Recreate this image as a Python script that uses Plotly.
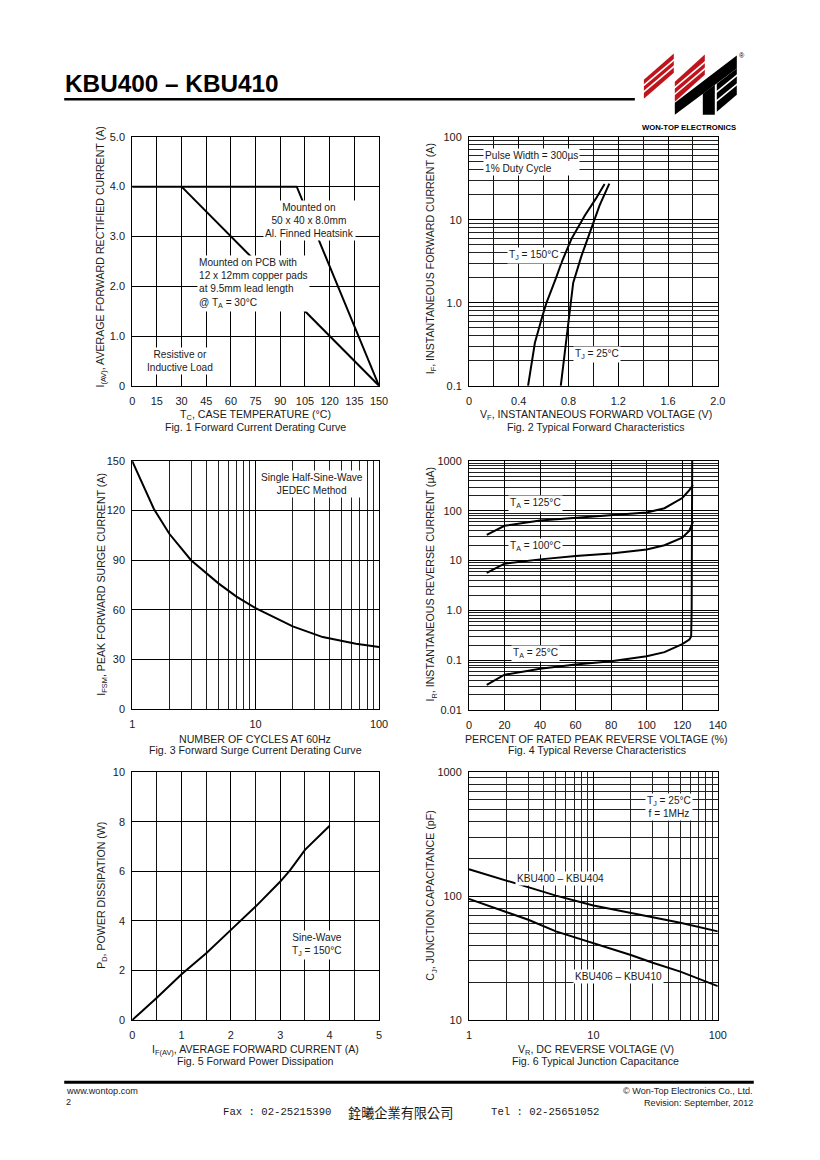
import plotly.graph_objects as go

W, H = 820, 1160
FONT = "Liberation Sans, Arial, sans-serif"
S = 0.986  # compensation for the slight shrink seen in the photographed page
DX, DY = 2.0, 1.5


def px(x):
    return (410 + (x + DX - 410) / S) / W


def py(y):
    return 1 - (580 + (y + DY - 580) / S) / H


def fs(size):
    return size / S


# ---------------- data ----------------
# Fig. 1 Forward Current Derating Curve
fig1_tc_heatsink = [0, 100, 150]
fig1_if_heatsink = [4.0, 4.0, 0.0]
fig1_tc_pcb = [30, 150]
fig1_if_pcb = [4.0, 0.0]
fig1_xticks = [0, 15, 30, 45, 60, 75, 90, 105, 120, 135, 150]
fig1_yticks = [0, 1, 2, 3, 4, 5]
fig1_ylabels = ["0", "1.0", "2.0", "3.0", "4.0", "5.0"]

# Fig. 2 Typical Forward Characteristics
fig2_vf_150 = [0.475, 0.53, 0.59, 0.623, 0.70, 0.744, 0.824, 0.93, 1.02, 1.09]
fig2_if_150 = [0.1, 0.33, 0.69, 1.0, 2.0, 3.06, 5.9, 11.2, 18.0, 27.0]
fig2_vf_25 = [0.738, 0.77, 0.80, 0.82, 0.838, 0.905, 0.985, 1.05, 1.128]
fig2_if_25 = [0.1, 0.25, 0.65, 1.05, 1.75, 3.7, 7.8, 14.9, 27.3]
fig2_xticks = [0, 0.4, 0.8, 1.2, 1.6, 2.0]
fig2_xlabels = ["0", "0.4", "0.8", "1.2", "1.6", "2.0"]
fig2_yticks = [0.1, 1, 10, 100]
fig2_ylabels = ["0.1", "1.0", "10", "100"]

# Fig. 3 Forward Surge Current Derating Curve
fig3_cycles = [1, 1.5, 2, 3, 5, 7, 10, 20, 35, 65, 100]
fig3_ifsm = [150, 121, 106, 90, 76, 68, 61, 50, 43.5, 39.5, 37.5]
fig3_xticks = [1, 10, 100]
fig3_yticks = [0, 30, 60, 90, 120, 150]

# Fig. 4 Typical Reverse Characteristics
fig4_pct_125 = [10, 20, 40, 60, 80, 100, 110, 120, 124, 126]
fig4_ir_125 = [33, 50, 64, 73, 83, 92.5, 113, 181, 260, 330]
fig4_pct_100 = [10, 20, 40, 60, 80, 100, 110, 120, 124, 126]
fig4_ir_100 = [5.7, 8.7, 10.6, 12.4, 13.9, 16.7, 20.4, 28.8, 40, 60]
fig4_pct_25 = [10, 20, 40, 60, 80, 100, 110, 120, 124, 125, 125.3, 125.6]
fig4_ir_25 = [0.032, 0.051, 0.067, 0.082, 0.095, 0.12, 0.145, 0.21, 0.26, 0.3, 1.0, 1000]
fig4_xticks = [0, 20, 40, 60, 80, 100, 120, 140]
fig4_yticks = [0.01, 0.1, 1, 10, 100, 1000]
fig4_ylabels = ["0.01", "0.1", "1.0", "10", "100", "1000"]

# Fig. 5 Forward Power Dissipation
fig5_if = [0, 0.5, 1, 1.5, 2, 2.5, 3, 3.2, 3.5, 4]
fig5_pd = [0, 0.9, 1.85, 2.7, 3.64, 4.58, 5.59, 6.05, 6.87, 7.84]
fig5_xticks = [0, 1, 2, 3, 4, 5]
fig5_yticks = [0, 2, 4, 6, 8, 10]

# Fig. 6 Typical Junction Capacitance
fig6_vr = [1, 2, 3, 5, 10, 20, 30, 50, 100]
fig6_cj_400 = [165, 134, 118, 101, 84, 73, 67, 61, 52]
fig6_cj_406 = [95, 75, 64.5, 52, 42, 33.5, 29, 24.6, 18.8]
fig6_xticks = [1, 10, 100]
fig6_yticks = [10, 100, 1000]

# ---------------- figure ----------------
fig = go.Figure()
LINE = dict(color="black", width=2)


def add(x, y, ax):
    fig.add_trace(go.Scatter(x=x, y=y, mode="lines", line=LINE, xaxis="x" + ax,
                             yaxis="y" + ax, showlegend=False, hoverinfo="skip"))


add(fig1_tc_heatsink, fig1_if_heatsink, "")
add(fig1_tc_pcb, fig1_if_pcb, "")
add(fig2_vf_150, fig2_if_150, "2")
add(fig2_vf_25, fig2_if_25, "2")
add(fig3_cycles, fig3_ifsm, "3")
add(fig4_pct_125, fig4_ir_125, "4")
add(fig4_pct_100, fig4_ir_100, "4")
add(fig4_pct_25, fig4_ir_25, "4")
add(fig5_if, fig5_pd, "5")
add(fig6_vr, fig6_cj_400, "6")
add(fig6_vr, fig6_cj_406, "6")


def log_minor(lo, hi):
    return [m * 10 ** d for d in range(lo, hi) for m in range(2, 10)]


TICKFONT = dict(size=fs(10.8), color="#1a1a1a", family=FONT)


def axis(dom_px, vertical, anchor, **kw):
    a, b = dom_px
    if vertical:
        dom = [py(b), py(a)]
        standoff = 4
    else:
        dom = [px(a), px(b)]
        standoff = 5
    d = dict(domain=dom, anchor=anchor, showline=True, mirror=True, linecolor="black",
             linewidth=1, showgrid=True, gridcolor="black", gridwidth=1, zeroline=False,
             ticks="", tickfont=TICKFONT, fixedrange=True, ticklabelstandoff=standoff)
    d.update(kw)
    return d


LX = (133, 380)
RX = (470, 719)
R1 = (137, 385)
R2 = (460, 707)
R3 = (770, 1017)


def minor_lin(dt):
    return dict(dtick=dt, showgrid=True, gridcolor="#111", gridwidth=1)


def minor_log(lo, hi):
    return dict(tickmode="array", tickvals=log_minor(lo, hi), showgrid=True,
                gridcolor="#222", gridwidth=1)


layout = dict(
    width=W, height=H, margin=dict(l=0, r=0, t=0, b=0, pad=0), autosize=False,
    paper_bgcolor="white", plot_bgcolor="white", showlegend=False,
    font=dict(family=FONT, color="#1a1a1a"),
    xaxis=axis(LX, False, "y", range=[0, 150], tickmode="array", tickvals=fig1_xticks),
    yaxis=axis(R1, True, "x", range=[0, 5], tickmode="array", tickvals=fig1_yticks,
               ticktext=fig1_ylabels),
    xaxis2=axis(RX, False, "y2", range=[0, 2], tickmode="array", tickvals=fig2_xticks,
                ticktext=fig2_xlabels, minor=minor_lin(0.2)),
    yaxis2=axis(R1, True, "x2", type="log", range=[-1, 2], tickmode="array",
                tickvals=fig2_yticks, ticktext=fig2_ylabels, minor=minor_log(-1, 2)),
    xaxis3=axis(LX, False, "y3", type="log", range=[0, 2], tickmode="array",
                tickvals=fig3_xticks, ticktext=[str(v) for v in fig3_xticks],
                minor=minor_log(0, 2)),
    yaxis3=axis(R2, True, "x3", range=[0, 150], tickmode="array", tickvals=fig3_yticks),
    xaxis4=axis(RX, False, "y4", range=[0, 140], tickmode="array", tickvals=fig4_xticks),
    yaxis4=axis((460, 708), True, "x4", type="log", range=[-2, 3], tickmode="array",
                tickvals=fig4_yticks, ticktext=fig4_ylabels, minor=minor_log(-2, 3)),
    xaxis5=axis(LX, False, "y5", range=[0, 5], tickmode="array", tickvals=fig5_xticks,
                minor=minor_lin(0.5)),
    yaxis5=axis(R3, True, "x5", range=[0, 10], tickmode="array", tickvals=fig5_yticks),
    xaxis6=axis(RX, False, "y6", type="log", range=[0, 2], tickmode="array",
                tickvals=fig6_xticks, ticktext=[str(v) for v in fig6_xticks],
                minor=minor_log(0, 2)),
    yaxis6=axis(R3, True, "x6", type="log", range=[1, 3], tickmode="array",
                tickvals=fig6_yticks, ticktext=[str(v) for v in fig6_yticks],
                minor=minor_log(1, 3)),
)
fig.update_layout(**layout)

anns = []


def ann(text, x, y, size=10, xanchor="center", align="center", bg=None, angle=0,
        family=FONT, color="#1a1a1a", yanchor="middle"):
    d = dict(text=text, x=px(x), y=py(y), xref="paper", yref="paper", showarrow=False,
             xanchor=xanchor, yanchor=yanchor, align=align, textangle=angle,
             font=dict(size=fs(size), family=family, color=color))
    if bg:
        d.update(bgcolor=bg, borderpad=1)
    anns.append(d)


AX = 10.5
YL, YR = 102, 432
# Fig 1
ann("I<sub>(AV)</sub>, AVERAGE FORWARD RECTIFIED CURRENT (A)", YL, 257, AX, angle=-90)
ann("T<sub>C</sub>, CASE TEMPERATURE (°C)", 256, 414, AX)
ann("Fig. 1 Forward Current Derating Curve", 256, 426, AX)
ann("Mounted on<br>50 x 40 x 8.0mm<br>Al. Finned Heatsink", 310, 220, 10, bg="white")
ann("Mounted on PCB with<br>12 x 12mm copper pads<br>at 9.5mm lead length<br>@ T<sub>A</sub> = 30°C",
    198, 283, 10, xanchor="left", align="left", bg="white")
ann("Resistive or<br>Inductive Load", 181, 360, 10, bg="white")
# Fig 2
ann("I<sub>F</sub>, INSTANTANEOUS FORWARD CURRENT (A)", YR, 258, AX, angle=-90)
ann("V<sub>F</sub>, INSTANTANEOUS FORWARD VOLTAGE (V)", 597, 414, AX)
ann("Fig. 2 Typical Forward Characteristics", 597, 426, AX)
ann("Pulse Width = 300µs<br>1% Duty Cycle", 484, 162, 10, xanchor="left", align="left",
    bg="white")
ann("T<sub>J</sub> = 150°C", 535, 255, 10, bg="white")
ann("T<sub>J</sub> = 25°C", 598, 354, 10, bg="white")
# Fig 3
ann("I<sub>FSM</sub>, PEAK FORWARD SURGE CURRENT (A)", YL, 583, AX, angle=-90)
ann("NUMBER OF CYCLES AT 60Hz", 256, 737, AX)
ann("Fig. 3 Forward Surge Current Derating Curve", 256, 748, AX)
ann("Single Half-Sine-Wave<br>JEDEC Method", 313, 483, 10, bg="white")
# Fig 4
ann("I<sub>R</sub>, INSTANTANEOUS REVERSE CURRENT (µA)", YR, 582, AX, angle=-90)
ann("PERCENT OF RATED PEAK REVERSE VOLTAGE (%)", 598, 737, AX)
ann("Fig. 4 Typical Reverse Characteristics", 598, 748, AX)
ann("T<sub>A</sub> = 125°C", 537, 502, 10, bg="white")
ann("T<sub>A</sub> = 100°C", 537, 545, 10, bg="white")
ann("T<sub>A</sub> = 25°C", 537, 652, 10, bg="white")
# Fig 5
ann("P<sub>D</sub>, POWER DISSIPATION (W)", YL, 893, AX, angle=-90)
ann("I<sub>F(AV)</sub>, AVERAGE FORWARD CURRENT (A)", 256, 1047, AX)
ann("Fig. 5 Forward Power Dissipation", 256, 1058, AX)
ann("Sine-Wave<br>T<sub>J</sub> = 150°C", 318, 942, 10, bg="white")
# Fig 6
ann("C<sub>J</sub>, JUNCTION CAPACITANCE (pF)", YR, 893, AX, angle=-90)
ann("V<sub>R</sub>, DC REVERSE VOLTAGE (V)", 597, 1047, AX)
ann("Fig. 6 Typical Junction Capacitance", 597, 1058, AX)
ann("T<sub>J</sub> = 25°C<br>f = 1MHz", 670, 805, 10, bg="white")
ann("KBU400 – KBU404", 562, 876, 10, bg="white")
ann("KBU406 – KBU410", 620, 974, 10, bg="white")

# Header
ann("<b>KBU400 – KBU410</b>", 64, 84, 24, xanchor="left", color="black")
ann("<b>WON-TOP ELECTRONICS</b>", 690, 128, 7.6, color="black")
ann("®", 743, 56, 7, color="black")
# Footer
ann("www.wontop.com", 65, 1088, 9, xanchor="left")
ann("2", 65, 1099, 9, xanchor="left")
ann("© Won-Top Electronics Co., Ltd.", 756, 1088, 9, xanchor="right")
ann("Revision: September, 2012", 756, 1100, 9, xanchor="right")
MONO = "Liberation Mono, monospace"
ann("Fax : 02-25215390", 222, 1109, 10.5, xanchor="left", family=MONO)
ann("銓曦企業有限公司", 401, 1109, 13, family="Noto Sans CJK TC")
ann("Tel : 02-25651052", 490, 1109, 10.5, xanchor="left", family=MONO)

fig.update_layout(annotations=anns)

shapes = []


def poly(pts, color):
    path = "M " + " L ".join(f"{px(x):.5f} {py(y):.5f}" for x, y in pts) + " Z"
    shapes.append(dict(type="path", path=path, xref="paper", yref="paper",
                       fillcolor=color, line=dict(width=0), layer="above"))


def seg(x0, y0, x1, y1, color, w):
    shapes.append(dict(type="line", x0=px(x0), y0=py(y0), x1=px(x1), y1=py(y1),
                       xref="paper", yref="paper", line=dict(color=color, width=w),
                       layer="above"))


seg(65, 99.5, 636, 99.5, "black", 2.5)
seg(65, 1079, 755, 1079, "black", 3)
RED = "#c0141c"
# logo
poly([(645, 80), (675, 54), (675, 73), (645, 99)], RED)
poly([(676, 82), (706, 55), (706, 75), (676, 102)], RED)
poly([(676, 103), (738, 56), (738, 69), (676, 115)], "black")
poly([(704, 94), (716, 85), (716, 115), (704, 115)], "black")
poly([(718, 84), (738, 69), (738, 95), (718, 112)], "black")
for (x0, y0, x1, y1) in [(644, 86.5, 676, 59.5), (644, 93, 676, 66),
                         (675, 88.8, 707, 61.8), (675, 95.3, 707, 68.3),
                         (717, 93, 739, 75), (717, 102, 739, 84)]:
    seg(x0, y0, x1, y1, "white", 1.6)
fig.update_layout(shapes=shapes)

fig.write_html("out.html",
               config={"displayModeBar": False, "responsive": False},
               post_script="document.documentElement.style.margin='0px';"
                           "document.body.style.margin='0px';"
                           "document.body.style.padding='0px';"
                           "document.documentElement.style.overflow='hidden';"
                           "document.body.style.overflow='hidden';")
